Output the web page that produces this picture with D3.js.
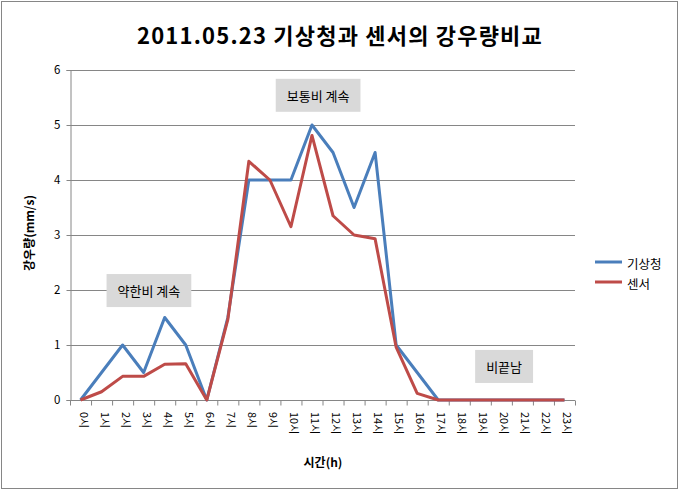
<!DOCTYPE html>
<html><head><meta charset="utf-8">
<script src="https://cdn.jsdelivr.net/npm/d3@7"></script>
<style>
body{margin:0;background:#fff;}
text{font-family:"Noto Sans CJK KR","Noto Sans",sans-serif;}
</style></head>
<body>
<svg id="c" width="680" height="491"></svg>
<script>
const hours = ["0시","1시","2시","3시","4시","5시","6시","7시","8시","9시","10시","11시","12시","13시","14시","15시","16시","17시","18시","19시","20시","21시","22시","23시"];
const kma = [0,0.5,1,0.5,1.5,1,0,1.5,4,4,4,5,4.5,3.5,4.5,1,0.5,0,0,0,0,0,0,0];
const sensor = [0,0.15,0.43,0.43,0.65,0.66,0,1.46,4.34,4.0,3.15,4.81,3.35,3.0,2.93,0.96,0.12,0,0,0,0,0,0,0];
const seriesNames = ["기상청","센서"];
const yTicks = [0,1,2,3,4,5,6];
const notes = [
  {text:"약한비 계속", hour:3.25, value:1.99},
  {text:"보통비 계속", hour:11.29, value:5.54},
  {text:"비끝남", hour:20.13, value:0.61}
];
const title = "2011.05.23 기상청과 센서의 강우량비교";

const svg = d3.select("#c");
svg.append("rect").attr("x",1.5).attr("y",1.5).attr("width",676).attr("height",487)
  .attr("fill","#fff").attr("stroke","#868686").attr("stroke-width",1);

const L=70, R=575, T=70, B=400;
const x = d3.scaleLinear().domain([-0.5,23.5]).range([L,R]);
const y = d3.scaleLinear().domain([0,6]).range([B,T]);

// gridlines
svg.append("g").selectAll("line").data(yTicks.filter(d=>d>0)).join("line")
  .attr("x1",L).attr("x2",R).attr("y1",d=>Math.round(y(d))+0.5).attr("y2",d=>Math.round(y(d))+0.5)
  .attr("stroke","#868686").attr("stroke-width",1);

// y axis
const ya = svg.append("g").attr("transform",`translate(${L+0.5},0)`)
  .call(d3.axisLeft(y).tickValues(yTicks).tickSize(4).tickPadding(6).tickFormat(d3.format("d")));
ya.selectAll("path,line").attr("stroke","#868686");
ya.selectAll("text").attr("font-size",11.5).attr("fill","#000").attr("font-family","Noto Sans, sans-serif");

// x axis ticks at boundaries
const xa = svg.append("g").attr("transform",`translate(0,${B+0.5})`)
  .call(d3.axisBottom(x).tickValues(d3.range(25).map(i=>i-0.5)).tickSize(5).tickFormat(""));
xa.selectAll("path,line").attr("stroke","#868686");
xa.select("path").attr("d",`M${L},0H${R}`);

// x labels
svg.append("g").selectAll("text").data(hours).join("text")
  .attr("transform",(d,i)=>`translate(${x(i)-1},${B+12}) rotate(90)`)
  .attr("font-size",11).attr("fill","#000").attr("text-anchor","start")
  .text(d=>d);

// lines
const line = d3.line().x((d,i)=>x(i)).y(d=>y(d));
const colors = ["#4a7ebb","#be4b48"];
[kma,sensor].forEach((s,k)=>{
  svg.append("path").datum(s).attr("d",line).attr("fill","none")
    .attr("stroke",colors[k]).attr("stroke-width",3).attr("stroke-linejoin","round");
});

// notes
notes.forEach(n=>{
  const g = svg.append("g");
  const t = g.append("text").attr("x",x(n.hour)).attr("y",y(n.value)).attr("text-anchor","middle")
    .attr("dominant-baseline","central").attr("font-size",13).attr("fill","#000").text(n.text);
  const bb = t.node().getBBox();
  g.insert("rect","text").attr("x",bb.x-11).attr("y",y(n.value)-16.5).attr("width",bb.width+22).attr("height",33)
    .attr("fill","#d9d9d9");
});

// title
svg.append("text").attr("x",340).attr("y",44).attr("text-anchor","middle")
  .attr("font-size",22).attr("font-weight","bold").attr("letter-spacing",1.2).attr("fill","#000").text(title);

// axis titles
svg.append("text").attr("transform","translate(34,233) rotate(-90)").attr("text-anchor","middle")
  .attr("font-size",12).attr("font-weight","bold").text("강우량(mm/s)");
svg.append("text").attr("x",323).attr("y",467).attr("text-anchor","middle")
  .attr("font-size",12).attr("font-weight","bold").text("시간(h)");

// legend
seriesNames.forEach((n,k)=>{
  const yy = 262 + k*20;
  svg.append("line").attr("x1",595).attr("x2",622).attr("y1",yy).attr("y2",yy)
    .attr("stroke",colors[k]).attr("stroke-width",3);
  svg.append("text").attr("x",627).attr("y",yy+1).attr("dominant-baseline","central")
    .attr("font-size",12.5).text(n);
});
</script>
</body></html>
